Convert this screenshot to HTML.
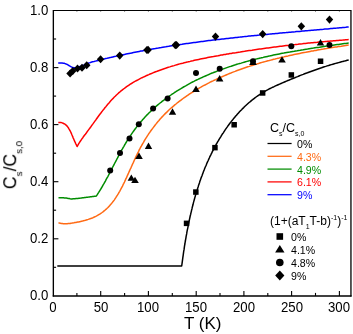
<!DOCTYPE html><html><head><meta charset="utf-8"><title>chart</title><style>
html,body{margin:0;padding:0;background:#fff;}
body{width:353px;height:334px;position:relative;overflow:hidden;font-family:"Liberation Sans",sans-serif;color:#000;}
.t{position:absolute;white-space:nowrap;line-height:1;will-change:transform;}
.xt{font-size:13.2px;top:300.8px;transform:translateX(-50%) scaleY(1.07);transform-origin:50% 84.6%;}
.yt{font-size:13.2px;right:304.5px;transform:scaleY(1.06);transform-origin:50% 50%;}
.lg{font-size:10.6px;transform:translateY(-50%);}
sub,sup{font-size:7px;line-height:0;}
</style></head><body>
<svg width="353" height="334" viewBox="0 0 353 334" style="position:absolute;left:0;top:0">
<path d="M57.3,266.0L181.7,266.0L181.7,266.0L181.9,264.5L182.1,263.1L182.3,261.6L182.5,260.2L182.7,258.7L182.9,257.2L183.1,255.8L183.3,254.3L183.5,252.8L183.7,251.3L184.0,249.9L184.2,248.4L184.4,246.9L184.6,245.5L184.9,244.0L185.1,242.5L185.4,241.0L185.6,239.6L185.9,238.1L186.1,236.6L186.4,235.1L186.7,233.7L186.9,232.2L187.2,230.7L187.5,229.2L187.8,227.8L188.1,226.3L188.4,224.8L188.7,223.3L189.0,221.9L189.3,220.4L189.6,218.9L189.9,217.5L190.2,216.0L190.6,214.5L190.9,213.1L191.3,211.6L191.6,210.1L192.0,208.7L192.3,207.2L192.7,205.8L193.1,204.3L193.4,202.9L193.8,201.4L194.2,200.0L194.6,198.5L195.0,197.1L195.4,195.6L195.9,194.2L196.3,192.7L196.7,191.3L197.2,189.9L197.6,188.4L198.1,187.0L198.5,185.6L199.0,184.2L199.5,182.7L199.9,181.3L200.4,179.9L200.9,178.5L201.4,177.1L202.0,175.7L202.5,174.3L203.0,172.9L203.5,171.5L204.1,170.1L204.6,168.7L205.2,167.3L205.8,166.0L206.4,164.6L206.9,163.2L207.5,161.9L208.2,160.5L208.8,159.1L209.4,157.8L210.0,156.4L210.7,155.1L211.3,153.8L212.0,152.4L212.6,151.1L213.3,149.8L214.0,148.5L214.7,147.1L215.4,145.8L216.1,144.5L216.9,143.2L217.6,141.9L218.4,140.7L219.1,139.4L219.9,138.1L220.7,136.8L221.4,135.6L222.2,134.3L223.1,133.1L223.9,131.8L224.7,130.6L225.5,129.4L226.4,128.1L227.3,126.9L228.1,125.7L229.0,124.5L229.9,123.3L230.8,122.1L231.7,120.9L232.7,119.8L233.6,118.6L234.6,117.4L235.5,116.3L236.5,115.2L237.5,114.0L238.5,112.9L239.5,111.8L240.5,110.8L241.6,109.7L242.6,108.6L243.7,107.6L244.7,106.5L245.8,105.5L246.9,104.5L248.0,103.5L249.1,102.5L250.3,101.6L251.4,100.6L252.6,99.7L253.7,98.8L254.9,97.9L256.1,97.0L257.3,96.2L258.5,95.3L259.8,94.5L261.0,93.7L262.3,92.9L263.6,92.1L264.8,91.4L266.1,90.6L267.5,89.9L268.8,89.2L270.1,88.5L271.4,87.9L272.8,87.2L274.1,86.6L275.5,85.9L276.9,85.3L278.2,84.7L279.6,84.1L281.0,83.5L282.4,82.9L283.8,82.3L285.1,81.7L286.5,81.1L287.9,80.5L289.3,80.0L290.7,79.4L292.1,78.8L293.5,78.2L294.8,77.7L296.2,77.1L297.6,76.6L299.0,76.0L300.4,75.4L301.8,74.9L303.2,74.4L304.6,73.8L306.0,73.3L307.4,72.8L308.8,72.2L310.2,71.7L311.6,71.2L313.0,70.7L314.4,70.2L315.8,69.7L317.2,69.2L318.7,68.7L320.1,68.2L321.5,67.8L322.9,67.3L324.3,66.8L325.7,66.4L327.2,65.9L328.6,65.5L330.0,65.0L331.4,64.6L332.9,64.2L334.3,63.8L335.7,63.4L337.2,63.0L338.6,62.6L340.0,62.2L341.5,61.8L342.9,61.4L344.4,61.1L345.8,60.7L347.2,60.3L348.7,60.0" fill="none" stroke="#000" stroke-width="1.5" stroke-linejoin="round"/>
<path d="M58.5,222.7L59.4,223.0L60.4,223.2L61.3,223.4L62.3,223.5L63.3,223.7L64.2,223.8L65.2,223.8L66.2,223.7L67.2,223.7L68.1,223.6L69.1,223.5L70.1,223.4L71.0,223.2L72.0,223.1L73.0,222.9L73.9,222.8L74.9,222.6L75.9,222.5L76.8,222.3L77.8,222.1L78.7,221.9L79.7,221.7L80.6,221.5L81.6,221.3L82.5,221.1L83.5,220.8L84.4,220.6L85.4,220.3L86.3,220.0L87.2,219.7L88.2,219.4L89.1,219.1L90.0,218.8L90.0,218.8L91.5,218.3L93.0,217.7L94.4,217.0L95.8,216.4L97.1,215.7L98.4,214.9L99.7,214.1L100.9,213.3L102.1,212.5L103.3,211.6L104.4,210.7L105.5,209.7L106.6,208.8L107.7,207.8L108.7,206.7L109.6,205.7L110.6,204.6L111.5,203.5L112.4,202.4L113.3,201.2L114.2,200.1L115.0,198.9L115.8,197.7L116.6,196.4L117.4,195.2L118.2,193.9L118.9,192.6L119.7,191.3L120.4,190.0L121.1,188.7L121.8,187.4L122.5,186.1L123.1,184.7L123.8,183.4L124.5,182.0L125.1,180.6L125.7,179.2L126.4,177.9L127.0,176.5L127.6,175.1L128.3,173.7L128.9,172.3L129.5,170.9L130.1,169.5L130.8,168.1L131.4,166.7L132.0,165.4L132.6,164.0L133.3,162.6L133.9,161.2L134.5,159.8L135.2,158.4L135.8,157.0L136.5,155.7L137.1,154.3L137.8,152.9L138.5,151.6L139.1,150.2L139.8,148.9L140.5,147.5L141.3,146.2L142.0,144.9L142.7,143.6L143.5,142.3L144.2,141.0L145.0,139.7L145.8,138.4L146.6,137.2L147.4,135.9L148.2,134.7L149.0,133.4L149.9,132.2L150.7,131.0L151.6,129.8L152.5,128.6L153.4,127.4L154.3,126.2L155.2,125.0L156.1,123.9L157.0,122.7L158.0,121.6L159.0,120.5L159.9,119.3L160.9,118.2L161.9,117.1L162.9,116.1L163.9,115.0L165.0,113.9L166.0,112.9L167.1,111.9L168.2,110.8L169.2,109.8L170.3,108.8L171.4,107.8L172.6,106.8L173.7,105.9L174.8,104.9L176.0,104.0L177.1,103.0L178.3,102.1L179.5,101.2L180.7,100.3L181.9,99.4L183.1,98.5L184.3,97.6L185.5,96.8L186.8,95.9L188.0,95.1L189.3,94.2L190.5,93.4L191.8,92.6L193.1,91.8L194.4,91.0L195.6,90.2L196.9,89.5L198.2,88.7L199.6,87.9L200.9,87.2L202.2,86.4L203.5,85.7L204.9,85.0L206.2,84.3L207.5,83.6L208.9,82.9L210.2,82.2L211.6,81.5L213.0,80.9L214.3,80.2L215.7,79.6L217.1,78.9L218.4,78.3L219.8,77.7L221.2,77.1L222.6,76.5L224.0,75.9L225.4,75.3L226.7,74.7L228.1,74.1L229.5,73.5L230.9,73.0L232.3,72.4L233.7,71.9L235.1,71.4L236.5,70.8L237.9,70.3L239.4,69.8L240.8,69.3L242.2,68.8L243.6,68.3L245.0,67.8L246.4,67.3L247.8,66.8L249.3,66.4L250.7,65.9L252.1,65.5L253.5,65.0L255.0,64.6L256.4,64.1L257.8,63.7L259.2,63.3L260.7,62.8L262.1,62.4L263.5,62.0L265.0,61.6L266.4,61.2L267.9,60.8L269.3,60.5L270.7,60.1L272.2,59.7L273.6,59.3L275.1,59.0L276.5,58.6L278.0,58.2L279.4,57.9L280.9,57.5L282.3,57.2L283.8,56.9L285.2,56.5L286.7,56.2L288.1,55.9L289.6,55.5L291.1,55.2L292.5,54.9L294.0,54.6L295.4,54.3L296.9,54.0L298.4,53.7L299.8,53.4L301.3,53.1L302.8,52.8L304.2,52.5L305.7,52.3L307.2,52.0L308.7,51.7L310.1,51.4L311.6,51.1L313.1,50.9L314.6,50.6L316.0,50.4L317.5,50.1L319.0,49.8L320.5,49.6L321.9,49.3L323.4,49.1L324.9,48.8L326.4,48.6L327.9,48.3L329.4,48.1L330.8,47.8L332.3,47.6L333.8,47.3L335.3,47.1L336.8,46.9L338.3,46.6L339.8,46.4L341.2,46.2L342.7,45.9L344.2,45.7L345.7,45.5L347.2,45.2L348.7,45.0" fill="none" stroke="#ff6a14" stroke-width="1.5" stroke-linejoin="round"/>
<path d="M58.5,197.8L59.5,197.8L60.5,197.8L61.4,197.8L62.4,197.8L63.4,197.8L64.4,197.9L65.3,197.9L66.3,198.0L67.2,198.2L68.2,198.4L69.2,198.6L70.1,198.8L71.1,198.9L72.1,198.9L73.0,198.8L74.0,198.8L75.0,198.7L76.0,198.6L76.9,198.5L77.9,198.4L78.9,198.3L79.8,198.2L80.8,198.1L81.8,197.9L82.7,197.8L83.7,197.7L84.7,197.5L85.6,197.4L86.6,197.3L87.6,197.2L88.6,197.1L89.5,196.9L90.5,196.8L91.5,196.7L92.4,196.6L93.4,196.5L94.4,196.3L95.3,196.2L96.3,196.1L96.3,196.1L97.1,194.9L97.9,193.6L98.7,192.4L99.5,191.1L100.3,189.8L101.1,188.5L101.8,187.3L102.6,186.0L103.3,184.7L104.1,183.4L104.8,182.1L105.5,180.8L106.2,179.4L106.9,178.1L107.7,176.8L108.4,175.5L109.1,174.2L109.7,172.8L110.4,171.5L111.1,170.2L111.8,168.8L112.5,167.5L113.2,166.2L113.9,164.8L114.6,163.5L115.3,162.2L116.0,160.8L116.7,159.5L117.4,158.2L118.1,156.8L118.8,155.5L119.5,154.2L120.2,152.9L120.9,151.6L121.6,150.2L122.4,148.9L123.1,147.6L123.9,146.3L124.6,145.0L125.4,143.7L126.1,142.5L126.9,141.2L127.7,139.9L128.5,138.7L129.3,137.4L130.2,136.2L131.0,134.9L131.8,133.7L132.7,132.4L133.5,131.2L134.4,130.0L135.3,128.8L136.2,127.6L137.1,126.4L138.0,125.3L139.0,124.1L139.9,122.9L140.8,121.8L141.8,120.7L142.8,119.5L143.8,118.4L144.8,117.3L145.8,116.2L146.8,115.1L147.9,114.1L148.9,113.0L150.0,112.0L151.1,110.9L152.2,109.9L153.3,108.9L154.4,107.9L155.5,106.9L156.6,105.9L157.8,104.9L158.9,104.0L160.1,103.0L161.3,102.1L162.4,101.2L163.6,100.3L164.8,99.3L166.0,98.5L167.2,97.6L168.5,96.7L169.7,95.8L170.9,95.0L172.1,94.1L173.4,93.3L174.6,92.5L175.9,91.7L177.1,90.9L178.4,90.1L179.7,89.3L180.9,88.6L182.2,87.8L183.5,87.0L184.8,86.3L186.1,85.6L187.4,84.8L188.7,84.1L190.0,83.4L191.3,82.7L192.6,82.0L193.9,81.4L195.2,80.7L196.6,80.0L197.9,79.4L199.3,78.7L200.6,78.1L202.0,77.5L203.3,76.9L204.7,76.3L206.0,75.7L207.4,75.1L208.8,74.5L210.1,73.9L211.5,73.3L212.9,72.8L214.3,72.2L215.7,71.7L217.1,71.1L218.5,70.6L219.9,70.1L221.3,69.6L222.7,69.1L224.1,68.6L225.5,68.1L226.9,67.6L228.3,67.1L229.7,66.6L231.2,66.2L232.6,65.7L234.0,65.2L235.5,64.8L236.9,64.3L238.3,63.9L239.8,63.5L241.2,63.1L242.7,62.6L244.1,62.2L245.6,61.8L247.0,61.4L248.5,61.0L249.9,60.6L251.4,60.3L252.8,59.9L254.3,59.5L255.8,59.1L257.2,58.8L258.7,58.4L260.2,58.1L261.6,57.7L263.1,57.4L264.6,57.0L266.1,56.7L267.5,56.4L269.0,56.1L270.5,55.7L272.0,55.4L273.4,55.1L274.9,54.8L276.4,54.5L277.9,54.2L279.4,53.9L280.9,53.6L282.3,53.3L283.8,53.1L285.3,52.8L286.8,52.5L288.3,52.2L289.8,52.0L291.3,51.7L292.8,51.4L294.2,51.2L295.7,50.9L297.2,50.7L298.7,50.4L300.2,50.2L301.7,49.9L303.2,49.7L304.6,49.4L306.1,49.2L307.6,49.0L309.1,48.7L310.6,48.5L312.1,48.3L313.5,48.1L315.0,47.8L316.5,47.6L318.0,47.4L319.5,47.2L320.9,46.9L322.4,46.7L323.9,46.5L325.4,46.3L326.8,46.1L328.3,45.9L329.8,45.7L331.2,45.5L332.7,45.3L334.2,45.0L335.6,44.8L337.1,44.6L338.6,44.4L340.0,44.2L341.5,44.0L342.9,43.8L344.4,43.6L345.8,43.4L347.3,43.2L348.7,43.0" fill="none" stroke="#008c00" stroke-width="1.5" stroke-linejoin="round"/>
<path d="M58.3,122.6L59.3,122.6L60.3,122.6L61.3,122.6L62.2,122.9L63.1,123.3L64.0,123.7L64.9,124.2L65.7,124.8L66.4,125.4L67.1,126.1L67.7,126.9L68.3,127.7L68.8,128.6L69.3,129.4L69.8,130.3L70.3,131.2L70.7,132.0L71.1,132.9L71.5,133.8L71.9,134.8L72.3,135.7L72.7,136.6L73.0,137.5L73.4,138.4L73.8,139.3L74.2,140.2L74.6,141.1L75.0,142.0L75.4,142.9L75.8,143.8L76.3,144.7L76.7,145.6L77.1,146.5L77.1,146.5L77.9,145.2L78.6,143.9L79.4,142.6L80.3,141.3L81.1,140.1L81.9,138.9L82.8,137.7L83.6,136.5L84.5,135.3L85.4,134.2L86.3,133.0L87.1,131.8L88.0,130.6L88.9,129.4L89.8,128.2L90.7,127.0L91.5,125.8L92.4,124.6L93.3,123.4L94.2,122.1L95.1,120.9L96.0,119.7L96.8,118.5L97.7,117.2L98.6,116.0L99.5,114.8L100.5,113.6L101.4,112.3L102.3,111.1L103.2,109.9L104.2,108.7L105.1,107.5L106.1,106.4L107.0,105.2L108.0,104.0L109.0,102.9L110.0,101.7L111.0,100.6L112.0,99.5L113.1,98.4L114.1,97.3L115.2,96.3L116.2,95.2L117.3,94.2L118.4,93.2L119.6,92.2L120.7,91.2L121.8,90.3L123.0,89.4L124.2,88.5L125.4,87.6L126.6,86.7L127.8,85.9L129.0,85.1L130.3,84.2L131.5,83.5L132.8,82.7L134.1,81.9L135.4,81.2L136.7,80.5L138.0,79.8L139.3,79.1L140.6,78.4L142.0,77.7L143.3,77.1L144.7,76.5L146.0,75.8L147.4,75.2L148.8,74.6L150.1,74.0L151.5,73.5L152.9,72.9L154.3,72.3L155.7,71.8L157.1,71.3L158.5,70.7L159.9,70.2L161.3,69.7L162.7,69.2L164.1,68.7L165.5,68.3L166.9,67.8L168.3,67.3L169.8,66.9L171.2,66.4L172.6,66.0L174.1,65.6L175.5,65.1L176.9,64.7L178.4,64.3L179.8,63.9L181.3,63.5L182.7,63.2L184.2,62.8L185.6,62.4L187.1,62.1L188.5,61.7L190.0,61.4L191.5,61.0L192.9,60.7L194.4,60.3L195.8,60.0L197.3,59.7L198.8,59.4L200.3,59.1L201.7,58.8L203.2,58.5L204.7,58.2L206.2,57.9L207.6,57.6L209.1,57.3L210.6,57.0L212.1,56.7L213.5,56.5L215.0,56.2L216.5,55.9L218.0,55.7L219.5,55.4L220.9,55.1L222.4,54.9L223.9,54.6L225.4,54.4L226.9,54.1L228.3,53.9L229.8,53.6L231.3,53.4L232.8,53.1L234.3,52.9L235.7,52.7L237.2,52.4L238.7,52.2L240.2,52.0L241.7,51.7L243.1,51.5L244.6,51.3L246.1,51.0L247.6,50.8L249.1,50.6L250.5,50.4L252.0,50.2L253.5,49.9L255.0,49.7L256.5,49.5L257.9,49.3L259.4,49.1L260.9,48.9L262.4,48.7L263.9,48.5L265.3,48.3L266.8,48.1L268.3,47.9L269.8,47.7L271.3,47.5L272.7,47.3L274.2,47.1L275.7,46.9L277.2,46.7L278.7,46.5L280.1,46.3L281.6,46.2L283.1,46.0L284.6,45.8L286.1,45.6L287.6,45.4L289.0,45.3L290.5,45.1L292.0,44.9L293.5,44.7L295.0,44.6L296.5,44.4L297.9,44.3L299.4,44.1L300.9,43.9L302.4,43.8L303.9,43.6L305.4,43.5L306.9,43.3L308.3,43.1L309.8,43.0L311.3,42.8L312.8,42.7L314.3,42.5L315.8,42.4L317.3,42.3L318.8,42.1L320.3,42.0L321.8,41.8L323.2,41.7L324.7,41.6L326.2,41.4L327.7,41.3L329.2,41.2L330.7,41.0L332.2,40.9L333.7,40.8L335.2,40.7L336.7,40.5L338.2,40.4L339.7,40.3L341.2,40.2L342.7,40.1L344.2,39.9L345.7,39.8L347.2,39.7L348.7,39.6" fill="none" stroke="#ff0000" stroke-width="1.5" stroke-linejoin="round"/>
<path d="M58.2,63.0L59.2,63.0L60.2,63.0L61.2,63.0L62.2,63.1L63.2,63.2L64.2,63.3L65.1,63.6L66.1,64.0L67.0,64.3L67.9,64.8L68.7,65.3L69.5,65.9L70.4,66.4L71.3,66.9L72.2,67.2L73.2,67.5L74.2,67.7L75.1,67.8L76.1,67.7L77.1,67.4L78.1,67.2L79.0,66.9L80.0,66.5L80.9,66.2L81.8,65.8L82.7,65.4L83.7,65.1L84.6,64.7L85.5,64.3L86.4,64.0L87.4,63.6L88.3,63.3L89.2,62.9L90.2,62.6L91.1,62.2L91.1,62.2L92.5,61.8L94.0,61.5L95.5,61.1L96.9,60.7L98.4,60.4L99.8,60.0L101.3,59.6L102.7,59.3L104.2,58.9L105.6,58.6L107.1,58.3L108.5,57.9L110.0,57.6L111.5,57.2L112.9,56.9L114.4,56.6L115.8,56.3L117.3,55.9L118.8,55.6L120.2,55.3L121.7,55.0L123.1,54.7L124.6,54.4L126.1,54.1L127.5,53.8L129.0,53.5L130.5,53.2L131.9,52.9L133.4,52.6L134.9,52.3L136.3,52.0L137.8,51.7L139.3,51.4L140.7,51.1L142.2,50.9L143.7,50.6L145.1,50.3L146.6,50.0L148.1,49.8L149.5,49.5L151.0,49.3L152.5,49.0L154.0,48.7L155.4,48.5L156.9,48.2L158.4,48.0L159.9,47.7L161.3,47.5L162.8,47.2L164.3,47.0L165.8,46.8L167.2,46.5L168.7,46.3L170.2,46.0L171.7,45.8L173.1,45.6L174.6,45.4L176.1,45.1L177.6,44.9L179.1,44.7L180.5,44.5L182.0,44.3L183.5,44.0L185.0,43.8L186.5,43.6L187.9,43.4L189.4,43.2L190.9,43.0L192.4,42.8L193.9,42.6L195.3,42.4L196.8,42.2L198.3,42.0L199.8,41.8L201.3,41.6L202.8,41.4L204.2,41.2L205.7,41.0L207.2,40.8L208.7,40.6L210.2,40.5L211.7,40.3L213.2,40.1L214.6,39.9L216.1,39.7L217.6,39.6L219.1,39.4L220.6,39.2L222.1,39.0L223.6,38.9L225.0,38.7L226.5,38.5L228.0,38.4L229.5,38.2L231.0,38.0L232.5,37.9L234.0,37.7L235.5,37.5L237.0,37.4L238.4,37.2L239.9,37.1L241.4,36.9L242.9,36.7L244.4,36.6L245.9,36.4L247.4,36.3L248.9,36.1L250.4,36.0L251.8,35.8L253.3,35.7L254.8,35.5L256.3,35.4L257.8,35.2L259.3,35.1L260.8,34.9L262.3,34.8L263.8,34.6L265.3,34.5L266.8,34.4L268.2,34.2L269.7,34.1L271.2,33.9L272.7,33.8L274.2,33.7L275.7,33.5L277.2,33.4L278.7,33.2L280.2,33.1L281.7,33.0L283.2,32.8L284.6,32.7L286.1,32.6L287.6,32.4L289.1,32.3L290.6,32.2L292.1,32.0L293.6,31.9L295.1,31.8L296.6,31.6L298.1,31.5L299.6,31.4L301.0,31.2L302.5,31.1L304.0,31.0L305.5,30.8L307.0,30.7L308.5,30.6L310.0,30.4L311.5,30.3L313.0,30.2L314.5,30.0L316.0,29.9L317.4,29.8L318.9,29.7L320.4,29.5L321.9,29.4L323.4,29.3L324.9,29.1L326.4,29.0L327.9,28.9L329.4,28.7L330.8,28.6L332.3,28.5L333.8,28.3L335.3,28.2L336.8,28.1L338.3,27.9L339.8,27.8L341.3,27.7L342.8,27.5L344.2,27.4L345.7,27.3L347.2,27.1L348.7,27.0" fill="none" stroke="#0000ff" stroke-width="1.5" stroke-linejoin="round"/>
<g fill="#000">
<rect x="183.8" y="220.6" width="5.5" height="5.5"/>
<rect x="193.1" y="189.3" width="5.5" height="5.5"/>
<rect x="212.2" y="144.9" width="5.5" height="5.5"/>
<rect x="231.4" y="122.0" width="5.5" height="5.5"/>
<rect x="259.9" y="90.2" width="5.5" height="5.5"/>
<rect x="288.6" y="72.2" width="5.5" height="5.5"/>
<rect x="317.8" y="58.5" width="5.5" height="5.5"/>
<path d="M131.3,174.4L135.1,180.8L127.6,180.8Z"/>
<path d="M135.0,176.7L138.8,183.1L131.2,183.1Z"/>
<path d="M139.0,152.6L142.8,159.0L135.2,159.0Z"/>
<path d="M148.5,142.6L152.2,149.0L144.8,149.0Z"/>
<path d="M172.5,108.3L176.2,114.7L168.8,114.7Z"/>
<path d="M196.0,85.6L199.8,92.0L192.2,92.0Z"/>
<path d="M219.7,75.1L223.4,81.5L215.9,81.5Z"/>
<path d="M253.0,58.6L256.8,65.0L249.2,65.0Z"/>
<path d="M282.0,56.2L285.8,62.6L278.2,62.6Z"/>
<path d="M320.5,39.1L324.2,45.5L316.8,45.5Z"/>
<circle cx="110.2" cy="170.5" r="3.0"/>
<circle cx="120.0" cy="153.0" r="3.0"/>
<circle cx="129.5" cy="138.5" r="3.0"/>
<circle cx="138.8" cy="124.2" r="3.0"/>
<circle cx="153.1" cy="108.6" r="3.0"/>
<circle cx="167.6" cy="98.4" r="3.0"/>
<circle cx="196.0" cy="73.0" r="3.0"/>
<circle cx="219.7" cy="68.7" r="3.0"/>
<circle cx="253.0" cy="61.2" r="3.0"/>
<circle cx="291.3" cy="46.2" r="3.0"/>
<circle cx="329.5" cy="45.0" r="3.0"/>
<path d="M70.1,69.4L73.8,73.5L70.1,77.5L66.3,73.5Z"/>
<path d="M72.8,67.0L76.5,71.1L72.8,75.1L69.0,71.1Z"/>
<path d="M77.5,64.4L81.2,68.5L77.5,72.5L73.8,68.5Z"/>
<path d="M82.0,63.7L85.8,67.8L82.0,71.8L78.2,67.8Z"/>
<path d="M86.7,61.2L90.5,65.2L86.7,69.3L83.0,65.2Z"/>
<path d="M100.6,55.2L104.3,59.2L100.6,63.3L96.8,59.2Z"/>
<path d="M119.7,51.6L123.5,55.6L119.7,59.7L116.0,55.6Z"/>
<path d="M146.9,46.0L150.7,50.0L146.9,54.1L143.2,50.0Z"/>
<path d="M148.1,45.8L151.8,49.9L148.1,53.9L144.3,49.9Z"/>
<path d="M175.3,41.1L179.1,45.1L175.3,49.2L171.6,45.1Z"/>
<path d="M176.5,40.9L180.2,44.9L176.5,49.0L172.8,44.9Z"/>
<path d="M215.5,32.6L219.2,36.6L215.5,40.7L211.8,36.6Z"/>
<path d="M262.7,30.1L266.4,34.1L262.7,38.2L258.9,34.1Z"/>
<path d="M301.3,22.3L305.1,26.3L301.3,30.4L297.6,26.3Z"/>
<path d="M329.5,15.6L333.2,19.6L329.5,23.7L325.8,19.6Z"/>
</g>
<g stroke="#000" stroke-width="1.4" fill="none">
<path d="M53.35,10.0V296.59999999999997" stroke-width="1.35"/><path d="M52.75,295.95H351.55" stroke-width="1.45"/><path d="M350.95,10.0V296.55" stroke-width="1.3"/><path d="M53.35,10.5H350.95" stroke-width="1.05"/>
<path d="M76.9,10.5v1.3" stroke-width="1" opacity="0.5"/>
<path d="M100.7,10.5v1.3" stroke-width="1" opacity="0.5"/>
<path d="M124.6,10.5v1.3" stroke-width="1" opacity="0.5"/>
<path d="M148.4,10.5v1.3" stroke-width="1" opacity="0.5"/>
<path d="M172.3,10.5v1.3" stroke-width="1" opacity="0.5"/>
<path d="M196.2,10.5v1.3" stroke-width="1" opacity="0.5"/>
<path d="M220.0,10.5v1.3" stroke-width="1" opacity="0.5"/>
<path d="M243.9,10.5v1.3" stroke-width="1" opacity="0.5"/>
<path d="M267.8,10.5v1.3" stroke-width="1" opacity="0.5"/>
<path d="M291.6,10.5v1.3" stroke-width="1" opacity="0.5"/>
<path d="M315.5,10.5v1.3" stroke-width="1" opacity="0.5"/>
<path d="M339.4,10.5v1.3" stroke-width="1" opacity="0.5"/>
<path d="M76.9,295.95V292.9" stroke-width="1.1"/>
<path d="M100.7,295.95V290.9" stroke-width="1.1"/>
<path d="M124.6,295.95V292.9" stroke-width="1.1"/>
<path d="M148.4,295.95V290.9" stroke-width="1.1"/>
<path d="M172.3,295.95V292.9" stroke-width="1.1"/>
<path d="M196.2,295.95V290.9" stroke-width="1.1"/>
<path d="M220.0,295.95V292.9" stroke-width="1.1"/>
<path d="M243.9,295.95V290.9" stroke-width="1.1"/>
<path d="M267.8,295.95V292.9" stroke-width="1.1"/>
<path d="M291.6,295.95V290.9" stroke-width="1.1"/>
<path d="M315.5,295.95V292.9" stroke-width="1.1"/>
<path d="M339.4,295.95V290.9" stroke-width="1.1"/>
<path d="M53.35,267.3H56.1" stroke-width="1.1"/>
<path d="M53.35,238.8H58.4" stroke-width="1.1"/>
<path d="M53.35,210.2H56.1" stroke-width="1.1"/>
<path d="M53.35,181.7H58.4" stroke-width="1.1"/>
<path d="M53.35,153.2H56.1" stroke-width="1.1"/>
<path d="M53.35,124.6H58.4" stroke-width="1.1"/>
<path d="M53.35,96.1H56.1" stroke-width="1.1"/>
<path d="M53.35,67.6H58.4" stroke-width="1.1"/>
<path d="M53.35,39.0H56.1" stroke-width="1.1"/>
</g>
<path d="M267.5,143.5H291.6" stroke="#000" stroke-width="1.25"/>
<path d="M267.5,156.3H291.6" stroke="#ff6a14" stroke-width="1.25"/>
<path d="M267.5,169.1H291.6" stroke="#008c00" stroke-width="1.25"/>
<path d="M267.5,181.9H291.6" stroke="#ff0000" stroke-width="1.25"/>
<path d="M267.5,194.7H291.6" stroke="#0000ff" stroke-width="1.25"/>
<g fill="#000">
<rect x="276.5" y="233.2" width="6.6" height="6.6"/>
<path d="M279.8,244.9L284.5,252.5L275.1,252.5Z"/>
<circle cx="279.8" cy="262.5" r="3.8"/>
<path d="M279.8,270.6L284.4,275.5L279.8,280.5L275.2,275.5Z"/>
</g>
</svg>
<div class="t xt" style="left:53.0px">0</div>
<div class="t xt" style="left:100.7px">50</div>
<div class="t xt" style="left:148.4px">100</div>
<div class="t xt" style="left:196.2px">150</div>
<div class="t xt" style="left:243.9px">200</div>
<div class="t xt" style="left:291.6px">250</div>
<div class="t xt" style="left:339.4px">300</div>
<div class="t yt" style="top:289.2px">0.0</div>
<div class="t yt" style="top:232.2px">0.2</div>
<div class="t yt" style="top:175.1px">0.4</div>
<div class="t yt" style="top:118.0px">0.6</div>
<div class="t yt" style="top:61.0px">0.8</div>
<div class="t yt" style="top:3.9px">1.0</div>
<div class="t" style="font-size:17px;left:184.2px;top:315.1px">T (K)</div>
<div class="t" id="yl" style="font-size:17.6px;left:11.2px;top:164.7px;transform:translate(-50%,-50%) rotate(-90deg);">C<sub style="font-size:9.8px;vertical-align:-6px">s</sub>/C<sub style="font-size:9.8px;vertical-align:-6px">s,0</sub></div>
<div class="t" style="font-size:12.5px;left:270.3px;top:121.8px">C<sub style="vertical-align:-3.7px">s</sub>/C<sub style="vertical-align:-3.7px">s,0</sub></div>
<div class="t lg" style="left:296.6px;top:144.0px;color:#000">0%</div>
<div class="t lg" style="left:296.6px;top:156.8px;color:#ff6a14">4.3%</div>
<div class="t lg" style="left:296.6px;top:169.6px;color:#008c00">4.9%</div>
<div class="t lg" style="left:296.6px;top:182.4px;color:#ff0000">6.1%</div>
<div class="t lg" style="left:296.6px;top:195.2px;color:#0000ff">9%</div>
<div class="t" style="font-size:12px;left:269.8px;top:215.2px">(1+(aT<sub style="vertical-align:-4px">1</sub>T-b)<sup style="vertical-align:5.5px">-1</sup>)<sup style="vertical-align:5.5px">-1</sup></div>
<div class="t lg" style="left:291px;top:236.7px">0%</div>
<div class="t lg" style="left:291px;top:249.8px">4.1%</div>
<div class="t lg" style="left:291px;top:262.9px">4.8%</div>
<div class="t lg" style="left:291px;top:276.0px">9%</div>
</body></html>
